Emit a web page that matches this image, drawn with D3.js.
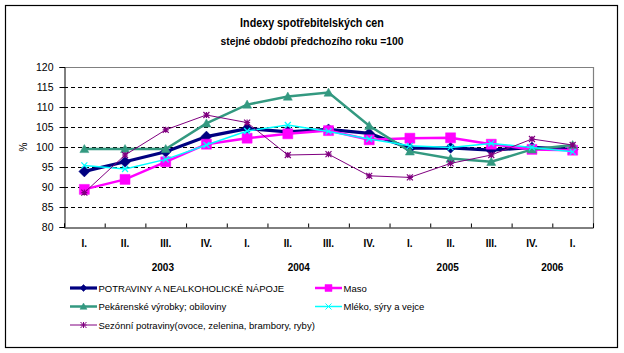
<!DOCTYPE html>
<html><head><meta charset="utf-8">
<script src="https://cdn.jsdelivr.net/npm/d3@7"></script>
<style>
html,body{margin:0;padding:0;background:#fff;}
svg text{font-family:"Liberation Sans",Arial,sans-serif;}
</style></head>
<body>
<svg id="c" width="624" height="353"></svg>
<script>
const quarters = ["I.","II.","III.","IV.","I.","II.","III.","IV.","I.","II.","III.","IV.","I."];
const years = ["2003","2004","2005","2006"];
const yTicks = [80,85,90,95,100,105,110,115,120];

const potraviny = [93.9,96.3,98.8,102.6,104.6,103.8,104.4,103.4,99.7,99.8,99.2,99.9,99.4];
const maso      = [89.4,91.9,96.3,100.7,102.2,103.3,104.1,101.8,102.2,102.3,100.7,99.4,99.2];
const pekarenske= [99.5,99.5,99.5,105.9,110.6,112.6,113.6,105.3,98.9,97.1,96.3,99.4,100.5];
const mleko     = [95.4,94.5,96.9,100.5,104.0,105.5,103.9,102.0,100.3,99.9,100.9,99.9,98.8];
const sezonni   = [88.6,98.0,104.3,108.0,106.1,98.0,98.2,92.8,92.4,95.9,98.0,102.0,100.5];

const series = [
  {name:"POTRAVINY A NEALKOHOLICKÉ NÁPOJE", values:potraviny, color:"#000080", w:3.2, marker:"diamond", ms:11, mfill:"#000080"},
  {name:"Maso", values:maso, color:"#FF00FF", w:2.5, marker:"square", ms:10, mfill:"#FF00FF"},
  {name:"Pekárenské výrobky; obiloviny", values:pekarenske, color:"#339980", w:2.5, marker:"triangle", ms:9, mfill:"#339980"},
  {name:"Mléko, sýry a vejce", values:mleko, color:"#00FFFF", w:1.5, marker:"x", ms:6, mfill:"none"},
  {name:"Sezónní potraviny(ovoce, zelenina, brambory, ryby)", values:sezonni, color:"#800080", w:1, marker:"star", ms:6, mfill:"none"}
];
// layout (category units for year labels)
const yearAt = [1.93, 5.27, 8.93, 11.5];

const svg = d3.select("#c");
const L=64, R=593, T=67, B=227;
const x = d3.scaleLinear().domain([-0.5, quarters.length-0.5]).range([L,R]);
const y = d3.scaleLinear().domain([80,120]).range([B,T]);

svg.append("rect").attr("x",5.5).attr("y",5.5).attr("width",612).attr("height",342)
  .attr("fill","#fff").attr("stroke","#000").attr("stroke-width",1.2);

svg.append("text").attr("transform","translate(312,27) scale(0.86,1)").attr("text-anchor","middle")
  .attr("font-size",12.5).attr("font-weight","bold").text("Indexy spotřebitelských cen");
svg.append("text").attr("transform","translate(312,45) scale(0.9,1)").attr("text-anchor","middle")
  .attr("font-size",11.5).attr("font-weight","bold").text("stejné období předchozího roku =100");

// gridlines
svg.append("g").selectAll("line").data(yTicks.filter(v=>v>80&&v<120)).join("line")
  .attr("x1",L).attr("x2",R).attr("y1",d=>y(d)+0.5).attr("y2",d=>y(d)+0.5)
  .attr("stroke","#000").attr("stroke-width",1).attr("stroke-dasharray","4,3");
// plot border top/right gray
svg.append("path").attr("d",`M${L},${T+0.5}H${R+0.5}V${B}`).attr("fill","none").attr("stroke","#808080").attr("stroke-width",1.2);

// y axis
const yAxis = d3.axisLeft(y).tickValues(yTicks).tickSize(5).tickPadding(6);
const gy = svg.append("g").attr("transform",`translate(${L+0.5},0)`).call(yAxis);
gy.select(".domain").attr("stroke","#000");
gy.selectAll(".tick line").attr("stroke","#000");
gy.selectAll("text").attr("font-size",10.5).attr("fill","#000").attr("font-family","Liberation Sans, Arial, sans-serif");

// x axis
const xAxis = d3.axisBottom(x).tickValues(d3.range(0, quarters.length+1).map(i=>i-0.5)).tickSize(-4).tickFormat("");
const gx = svg.append("g").attr("transform",`translate(0,${B+0.5})`).call(xAxis);
gx.select(".domain").attr("stroke","#000");
gx.selectAll(".tick line").attr("stroke","#000");

svg.append("g").selectAll("text").data(quarters).join("text")
  .attr("x",(d,i)=>x(i)).attr("y",247).attr("text-anchor","middle")
  .attr("font-size",10).attr("font-weight","bold").text(d=>d);
svg.append("g").selectAll("text").data(years).join("text")
  .attr("x",(d,i)=>x(yearAt[i])).attr("y",271).attr("text-anchor","middle")
  .attr("font-size",10).attr("font-weight","bold").text(d=>d);

svg.append("text").attr("transform",`translate(27,${y(100)}) rotate(-90)`).attr("text-anchor","middle")
  .attr("font-size",10).text("%");

function markerPath(type,s){
  const h=s/2;
  switch(type){
    case "diamond": return `M0,${-h}L${h},0L0,${h}L${-h},0Z`;
    case "square": return `M${-h},${-h}H${h}V${h}H${-h}Z`;
    case "triangle": return `M0,${-h}L${h},${h*0.8}L${-h},${h*0.8}Z`;
    case "x": return `M${-h},${-h}L${h},${h}M${h},${-h}L${-h},${h}`;
    case "star": return `M${-h},${-h}L${h},${h}M${h},${-h}L${-h},${h}M0,${-h}V${h}M${-h},0H${h}`;
  }
}

const line = d3.line().x((d,i)=>x(i)).y(d=>y(d));
series.forEach(s=>{
  const g = svg.append("g");
  g.append("path").attr("d",line(s.values)).attr("fill","none").attr("stroke",s.color).attr("stroke-width",s.w);
  g.selectAll("path.m").data(s.values).join("path").attr("class","m")
    .attr("transform",(d,i)=>`translate(${x(i)},${y(d)})`)
    .attr("d",markerPath(s.marker,s.ms))
    .attr("fill",s.mfill).attr("stroke",s.color).attr("stroke-width",s.mfill==="none"?1.2:0.5);
});

// legend
const legPos = [[0,0],[1,0],[0,1],[1,1],[0,2]];
const colX=[70,315], rowY=[288,306.5,325];
series.forEach((s,i)=>{
  const [c,r]=legPos[i];
  const g = svg.append("g").attr("transform",`translate(${colX[c]},${rowY[r]})`);
  g.append("line").attr("x1",0).attr("x2",27).attr("y1",0).attr("y2",0).attr("stroke",s.color).attr("stroke-width",s.w);
  g.append("path").attr("transform","translate(13.5,0)").attr("d",markerPath(s.marker,Math.min(s.ms,7)))
    .attr("fill",s.mfill).attr("stroke",s.color).attr("stroke-width",s.mfill==="none"?1:0.5);
  g.append("text").attr("x",28.5).attr("y",3.5).attr("font-size",9.5).text(s.name);
});
</script>
</body></html>
